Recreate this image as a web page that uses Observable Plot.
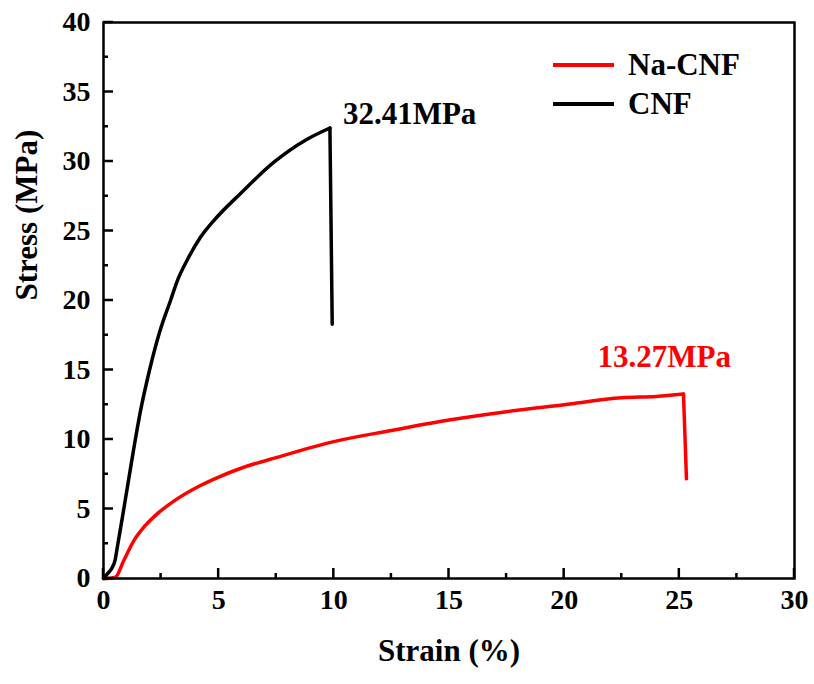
<!DOCTYPE html>
<html>
<head>
<meta charset="utf-8">
<script src="https://cdn.jsdelivr.net/npm/d3@7"></script>
<script src="https://cdn.jsdelivr.net/npm/@observablehq/plot@0.6"></script>
<style>
  html, body { margin: 0; padding: 0; background: #fff; }
  #wrap { position: relative; width: 814px; height: 684px; font-family: "Liberation Serif", "Times New Roman", serif; font-weight: bold; }
  #legend { position: absolute; left: 553px; top: 45px; font-size: 31px; }
  .item { display: flex; align-items: center; height: 39px; }
  .swatch { width: 61px; height: 4px; margin-right: 14px; }
</style>
</head>
<body>
<div id="wrap"></div>
<script>
// CNF curve
const cnfStrain = [0, 0.15, 0.38, 0.5, 0.6, 0.82, 1.04, 1.3, 1.6, 2.0, 2.45, 2.91, 3.2, 3.63, 4.21, 4.79, 5.95, 7.4, 8.84, 9.83, 9.93];
const cnfStress = [0, 0.3, 0.8, 1.3, 2.25, 4.4, 6.6, 9.2, 12.0, 15.0, 17.8, 20.0, 21.4, 22.9, 24.55, 25.75, 27.7, 29.95, 31.6, 32.41, 18.3];
// Na-CNF curve
const naStrain = [0, 0.16, 0.52, 0.88, 1.32, 1.75, 2.33, 3.2, 4.21, 5, 6, 7.5, 10, 12.5, 15, 17.5, 20, 22.5, 24, 25.18, 25.31];
const naStress = [0, 0, 0.1, 1.3, 2.73, 3.69, 4.65, 5.73, 6.69, 7.3, 7.95, 8.7, 9.85, 10.65, 11.4, 12.0, 12.5, 13.0, 13.1, 13.27, 7.17];

const seriesNames = ["Na-CNF", "CNF"];
const seriesColors = ["#ff0000", "#000000"];
const peakLabels = ["13.27MPa", "32.41MPa"];

const xTicks = [0, 5, 10, 15, 20, 25, 30];
const xMinor = [2.5, 7.5, 12.5, 17.5, 22.5, 27.5];
const yTicks = [0, 5, 10, 15, 20, 25, 30, 35, 40];
const yMinor = [2.5, 7.5, 12.5, 17.5, 22.5, 27.5, 32.5, 37.5];

const toPts = (xs, ys) => xs.map((x, i) => ({x, y: ys[i]}));
const cnf = toPts(cnfStrain, cnfStress);
const na = toPts(naStrain, naStress);
// rising part (smooth) and fracture drop (straight)
const cnfRise = cnf.slice(0, cnf.length - 1);
const cnfDrop = cnf.slice(cnf.length - 2);
const naRise = na.slice(0, na.length - 1);
const naDrop = na.slice(na.length - 2);

const peakNa = {x: naStrain[naStrain.length - 2], y: naStress[naStress.length - 2], label: peakLabels[0]};
const peakCnf = {x: cnfStrain[cnfStrain.length - 2], y: cnfStress[cnfStress.length - 2], label: peakLabels[1]};

const W = 814, H = 684, mL = 103, mR = 20, mT = 22, mB = 106;
const font = "Liberation Serif, Times New Roman, serif";

const chart = Plot.plot({
  width: W, height: H,
  marginLeft: mL, marginRight: mR, marginTop: mT, marginBottom: mB,
  style: {fontFamily: font, fontWeight: "bold", background: "#fff", color: "#000"},
  x: {domain: [0, 30]},
  y: {domain: [0, 40]},
  marks: [
    Plot.axisX({ticks: xTicks, tickSize: 0, tickPadding: 11, fontSize: 28, label: null}),
    Plot.axisY({ticks: yTicks, tickSize: 0, tickPadding: 13, fontSize: 28, label: null}),
    Plot.text(["Strain (%)"], {frameAnchor: "bottom", dy: 82, fontSize: 31, fill: "#000"}),
    Plot.text(["Stress (MPa)"], {frameAnchor: "left", dx: -76, rotate: -90, fontSize: 31, fill: "#000"}),
    Plot.line(naRise, {x: "x", y: "y", stroke: seriesColors[0], strokeWidth: 3.5, curve: "monotone-x"}),
    Plot.line(naDrop, {x: "x", y: "y", stroke: seriesColors[0], strokeWidth: 3.5, strokeLinecap: "round"}),
    Plot.line(cnfRise, {x: "x", y: "y", stroke: seriesColors[1], strokeWidth: 3.5, curve: "monotone-x"}),
    Plot.line(cnfDrop, {x: "x", y: "y", stroke: seriesColors[1], strokeWidth: 3.5, strokeLinecap: "round"}),
    Plot.text([peakCnf], {x: "x", y: "y", text: "label", textAnchor: "start", dx: 13, dy: -14, fontSize: 31, fill: seriesColors[1]}),
    Plot.text([peakNa], {x: "x", y: "y", text: "label", textAnchor: "start", dx: -86, dy: -37, fontSize: 31, fill: seriesColors[0]}),
    Plot.frame({stroke: "#000", strokeWidth: 2.5})
  ]
});

// inward ticks drawn with the chart's own scales
const sx = chart.scale("x"), sy = chart.scale("y");
const x0 = sx.range[0], yBase = sy.range[0];
const g = d3.select(chart).append("g");
const tick = (x1, y1, x2, y2) => g.append("line")
  .attr("x1", x1).attr("y1", y1).attr("x2", x2).attr("y2", y2)
  .style("stroke", "#000").style("stroke-width", "2.5px");
xTicks.forEach(v => tick(sx.apply(v), yBase, sx.apply(v), yBase - 10));
xMinor.forEach(v => tick(sx.apply(v), yBase, sx.apply(v), yBase - 5));
yTicks.forEach(v => tick(x0, sy.apply(v), x0 + 10, sy.apply(v)));
yMinor.forEach(v => tick(x0, sy.apply(v), x0 + 5, sy.apply(v)));

const wrap = document.getElementById("wrap");
wrap.appendChild(chart);

const legend = document.createElement("div");
legend.id = "legend";
seriesNames.forEach((name, i) => {
  const item = document.createElement("div");
  item.className = "item";
  const sw = document.createElement("div");
  sw.className = "swatch";
  sw.style.background = seriesColors[i];
  const label = document.createElement("span");
  label.textContent = name;
  item.appendChild(sw);
  item.appendChild(label);
  legend.appendChild(item);
});
wrap.appendChild(legend);
</script>
</body>
</html>
